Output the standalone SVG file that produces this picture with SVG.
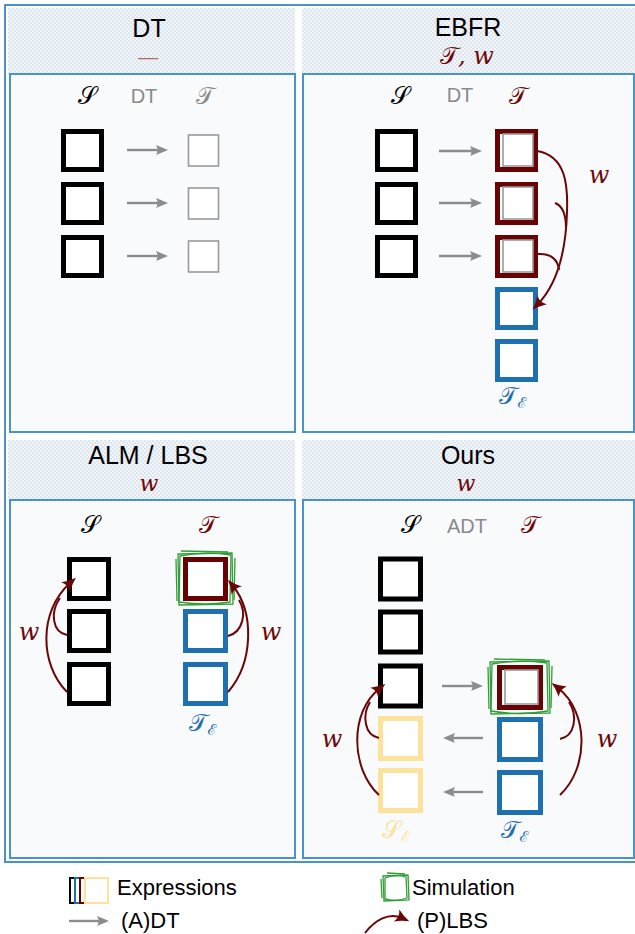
<svg xmlns="http://www.w3.org/2000/svg" width="635" height="934" viewBox="0 0 635 934">
  <defs>
    <pattern id="hatch" width="4" height="4" patternUnits="userSpaceOnUse">
      <rect width="4" height="4" fill="#f2f5f9"/>
      <rect width="2" height="2" fill="#dde5ef"/>
      <rect x="2" y="2" width="2" height="2" fill="#dde5ef"/>
    </pattern>
    <marker id="grayHead" markerUnits="userSpaceOnUse" markerWidth="14" markerHeight="12" refX="3" refY="6" orient="auto" overflow="visible">
      <path d="M0,1 L12,6 L0,11 Q3,6 0,1 Z" fill="#8c8c8c"/>
    </marker>
    <marker id="redHead" markerUnits="userSpaceOnUse" markerWidth="16" markerHeight="14" refX="6" refY="7" orient="auto" overflow="visible">
      <path d="M0,0.5 Q7,5 14,7 Q7,9 0,13.5 Q4,7 0,0.5 Z" fill="#6b0606"/>
    </marker>
    <style>
      .hdr { fill: url(#hatch); }
      .panel { fill: #f9fafc; stroke: #4a92cc; stroke-width: 2; }
      .title { font-family: "Liberation Sans", Arial, sans-serif; font-size: 25px; fill: #000; text-anchor: middle; }
      .colhdr { font-family: "Liberation Sans", Arial, sans-serif; font-size: 20px; fill: #8a8a8a; text-anchor: middle; }
      .math { font-family: "DejaVu Serif", "Liberation Serif", serif; font-style: italic; font-size: 24px; text-anchor: middle; }
      .sub { font-size: 22px; }
      .cal { font-family: "DejaVu Serif", "Noto Sans", serif; font-size: 24px; text-anchor: middle; }
      .red { fill: #6e0808; }
      .blk { fill: #000; }
      .gry { fill: #8a8a8a; }
      .blu { fill: #1f6fb0; }
      .yel { fill: #fde29b; }
      .sq { fill: #fff; stroke-width: 5; }
      .sqS { stroke: #000; }
      .sqT { stroke: #690202; }
      .sqE { stroke: #1f70b1; }
      .sqY { stroke: #fde29b; }
      .sqDT { fill: #fff; stroke: #9a9a9a; stroke-width: 1.6; }
      .dt { fill: none; stroke: #8c8c8c; stroke-width: 2.4; marker-end: url(#grayHead); }
      .lbs { fill: none; stroke: #6b0606; stroke-width: 2; }
      .lbsA { marker-end: url(#redHead); }
      .sim { fill: none; stroke: #2f9f34; stroke-width: 1.3; }
      .legend { font-family: "Liberation Sans", Arial, sans-serif; font-size: 22px; fill: #000; }
    </style>
  </defs>

  <rect width="635" height="934" fill="#fff"/>

  <!-- outer frame -->
  <rect x="5" y="5" width="640" height="857" fill="#fff" stroke="#4a92cc" stroke-width="2"/>

  <!-- headers -->
  <rect class="hdr" x="8" y="8" width="287" height="66"/>
  <rect class="hdr" x="302" y="8" width="333" height="66"/>
  <rect class="hdr" x="8" y="440" width="287" height="60"/>
  <rect class="hdr" x="302" y="440" width="333" height="60"/>

  <!-- panels -->
  <rect class="panel" x="10" y="74" width="285" height="358"/>
  <rect class="panel" x="303" y="74" width="331" height="358"/>
  <rect class="panel" x="10" y="500" width="285" height="358"/>
  <rect class="panel" x="303" y="500" width="331" height="358"/>

  <!-- ===== DT ===== -->
  <g id="dt-header">
    <text class="title" x="149" y="37">DT</text>
    <text x="148" y="64" font-family="Liberation Sans, Arial, sans-serif" font-size="20" fill="#b56a6a" text-anchor="middle">—</text>
  </g>
  <g id="dt-columns">
    <text class="cal blk" x="87" y="104">𝒮</text>
    <text class="colhdr" x="144" y="103">DT</text>
    <text class="cal gry" x="205" y="104">𝒯</text>
  </g>
  <g id="dt-source">
    <rect class="sq sqS" x="63.5" y="131.5" width="38" height="38"/>
    <rect class="sq sqS" x="63.5" y="184.5" width="38" height="38"/>
    <rect class="sq sqS" x="63.5" y="237.5" width="38" height="38"/>
  </g>
  <g id="dt-target">
    <rect class="sqDT" x="188.5" y="135" width="30" height="31"/>
    <rect class="sqDT" x="188.5" y="188" width="30" height="31"/>
    <rect class="sqDT" x="188.5" y="241" width="30" height="31"/>
  </g>

  <!-- ===== EBFR ===== -->
  <g id="ebfr-header">
    <text class="title" x="468" y="36">EBFR</text>
    <text class="math red" x="467" y="64" font-size="28"><tspan font-style="normal">𝒯</tspan>, w</text>
  </g>
  <g id="ebfr-columns">
    <text class="cal blk" x="400" y="104">𝒮</text>
    <text class="colhdr" x="460" y="102">DT</text>
    <text class="cal red" x="518" y="104">𝒯</text>
  </g>
  <g id="ebfr-source">
    <rect class="sq sqS" x="377.5" y="131.5" width="38" height="38"/>
    <rect class="sq sqS" x="377.5" y="184.5" width="38" height="38"/>
    <rect class="sq sqS" x="377.5" y="237.5" width="38" height="38"/>
  </g>
  <g id="ebfr-target">
    <rect class="sq sqT" x="497.5" y="131.5" width="38" height="38"/>
    <rect class="sqDT" x="503" y="134" width="30" height="32"/>
    <rect class="sq sqT" x="497.5" y="184.5" width="38" height="38"/>
    <rect class="sqDT" x="503" y="187" width="30" height="32"/>
    <rect class="sq sqT" x="497.5" y="237.5" width="38" height="38"/>
    <rect class="sqDT" x="503" y="240" width="30" height="32"/>
  </g>
  <g id="ebfr-expr">
    <rect class="sq sqE" x="497.5" y="289.5" width="38" height="38"/>
    <rect class="sq sqE" x="497.5" y="341.5" width="38" height="38"/>
    <text class="cal blu" x="513" y="404">𝒯<tspan font-size="15" dy="4">ℰ</tspan></text>
  </g>

  <!-- ===== ALM / LBS ===== -->
  <g id="lbs-header">
    <text class="title" x="148" y="464">ALM / LBS</text>
    <text class="math sub red" x="149" y="491">w</text>
  </g>
  <g id="lbs-columns">
    <text class="cal blk" x="90" y="533">𝒮</text>
    <text class="cal red" x="208" y="533">𝒯</text>
  </g>
  <g id="lbs-source">
    <rect class="sq sqS" x="69.5" y="559.5" width="39" height="39"/>
    <rect class="sq sqS" x="69.5" y="611.5" width="39" height="39"/>
    <rect class="sq sqS" x="69.5" y="664.5" width="39" height="39"/>
  </g>
  <g id="lbs-target">
    <path class="sim" d="M178,554 L232,553 L233,604 L179,605 Z"/>
    <path class="sim" d="M180,556 Q205,551 231,555 L230,602 Q205,606 179,602 Z"/>
    <path class="sim" d="M176,559 L177,601 M181,551 L228,552 M235,558 L234,600"/>
    <rect class="sq sqT" x="185.5" y="559.5" width="40" height="39"/>
  </g>
  <g id="lbs-expr">
    <rect class="sq sqE" x="185.5" y="611.5" width="40" height="39"/>
    <rect class="sq sqE" x="185.5" y="664.5" width="40" height="39"/>
    <text class="cal blu" x="203" y="731">𝒯<tspan font-size="15" dy="4">ℰ</tspan></text>
  </g>

  <!-- ===== Ours ===== -->
  <g id="ours-header">
    <text class="title" x="468" y="464">Ours</text>
    <text class="math sub red" x="466" y="491">w</text>
  </g>
  <g id="ours-columns">
    <text class="cal blk" x="410" y="533">𝒮</text>
    <text class="colhdr" x="467" y="533">ADT</text>
    <text class="cal red" x="530" y="533">𝒯</text>
  </g>
  <g id="ours-source">
    <rect class="sq sqS" x="380.5" y="559" width="40" height="40"/>
    <rect class="sq sqS" x="380.5" y="612" width="40" height="40"/>
    <rect class="sq sqS" x="380.5" y="666" width="40" height="40"/>
  </g>
  <g id="ours-source-expr">
    <rect class="sq sqY" x="380.5" y="718.5" width="40" height="40"/>
    <rect class="sq sqY" x="380.5" y="770.5" width="40" height="40"/>
    <text class="cal yel" x="396" y="838">𝒮<tspan font-size="15" dy="4">ℰ</tspan></text>
  </g>
  <g id="ours-target">
    <path class="sim" d="M490,662 L549,661 L550,713 L491,714 Z"/>
    <path class="sim" d="M492,664 Q520,659 547,663 L548,711 Q520,716 491,711 Z"/>
    <path class="sim" d="M488,667 L489,709 M494,659 L545,660 M552,666 L551,708"/>
    <rect class="sq sqT" x="499.5" y="667.5" width="41" height="40"/>
    <rect class="sqDT" x="505" y="670" width="33" height="34"/>
  </g>
  <g id="ours-target-expr">
    <rect class="sq sqE" x="499.5" y="719.5" width="41" height="40"/>
    <rect class="sq sqE" x="499.5" y="772.5" width="41" height="40"/>
    <text class="cal blu" x="515" y="838">𝒯<tspan font-size="15" dy="4">ℰ</tspan></text>
  </g>

  <!-- ===== connectors ===== -->
  <g id="connectors">
    <!-- DT -->
    <path class="dt" d="M127,150 H159"/>
    <path class="dt" d="M127,203 H159"/>
    <path class="dt" d="M127,256 H159"/>
    <!-- EBFR -->
    <path class="dt" d="M439,151 H473"/>
    <path class="dt" d="M439,203 H473"/>
    <path class="dt" d="M439,256 H473"/>
    <path class="lbs lbsA" d="M537,151 C566,156 568,185 567,212 C566,248 558,283 538,304"/>
    <path class="lbs" d="M555,203 C563,206 566,214 566,228"/>
    <path class="lbs" d="M538,254 C551,253 558,260 559,270"/>
    <text class="math red" x="599" y="183">w</text>
    <!-- ALM / LBS -->
    <path class="lbs lbsA" d="M67,692 C40,665 38,612 70,583"/>
    <path class="lbs" d="M67,635 C52,632 50,612 60,598"/>
    <path class="lbs lbsA" d="M228,692 C254,662 254,612 233,586"/>
    <path class="lbs" d="M228,636 C243,632 247,613 239,600"/>
    <text class="math red" x="29" y="640">w</text>
    <text class="math red" x="271" y="640">w</text>
    <!-- Ours -->
    <path class="dt" d="M442,686 H474"/>
    <path class="dt" d="M483,738 H452"/>
    <path class="dt" d="M483,792 H452"/>
    <path class="lbs lbsA" d="M379,795 C350,768 350,712 379,689"/>
    <path class="lbs" d="M379,738 C364,735 362,715 370,702"/>
    <path class="lbs lbsA" d="M560,795 C589,768 589,712 558,688"/>
    <path class="lbs" d="M560,739 C575,736 578,716 569,702"/>
    <text class="math red" x="332" y="747">w</text>
    <text class="math red" x="607" y="747">w</text>
  </g>

  <!-- ===== legend ===== -->
  <g id="legend-expressions">
    <rect x="70" y="878" width="22" height="25" fill="#fff" stroke="#000" stroke-width="2"/>
    <rect x="75" y="878" width="22" height="25" fill="#fff" stroke="#1f70b1" stroke-width="2"/>
    <rect x="80" y="878" width="22" height="25" fill="#fff" stroke="#690202" stroke-width="2"/>
    <rect x="85" y="878" width="23" height="25" fill="#fff" stroke="#fde29b" stroke-width="2"/>
    <text class="legend" x="117" y="895">Expressions</text>
  </g>
  <g id="legend-simulation">
    <path class="sim" d="M383,876 L408,875 L409,900 L384,901 Z"/>
    <path class="sim" d="M385,878 Q396,874 406,877 L407,898 Q396,902 385,899 Z"/>
    <path class="sim" d="M381,879 L382,898 M387,873 L405,874"/>
    <text class="legend" x="412" y="895">Simulation</text>
  </g>
  <g id="legend-adt">
    <path class="dt" d="M69,921 H100"/>
    <text class="legend" x="121" y="928">(A)DT</text>
  </g>
  <g id="legend-plbs">
    <path class="lbs lbsA" d="M365,933 C375,920 389,912 402,918"/>
    <text class="legend" x="417" y="928">(P)LBS</text>
  </g>
</svg>
